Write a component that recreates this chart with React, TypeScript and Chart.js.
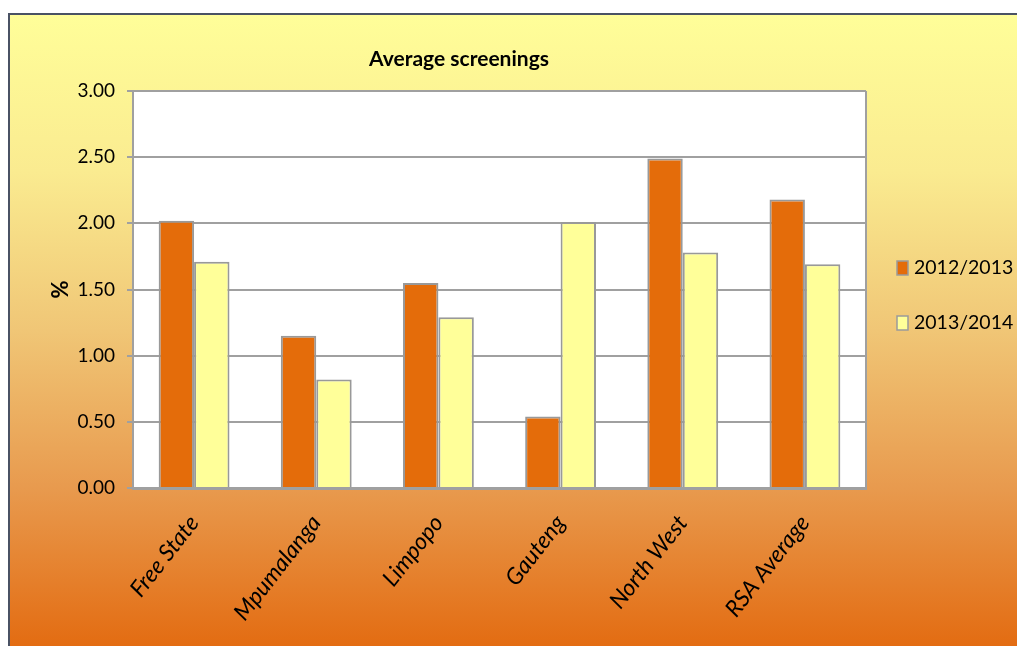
import React, { useEffect, useRef } from "react";
import { Chart, registerables } from "chart.js";

Chart.register(...registerables);

const categories = ["Free State", "Mpumalanga", "Limpopo", "Gauteng", "North West", "RSA Average"];
const series2012 = [2.02, 1.15, 1.55, 0.54, 2.49, 2.18];
const series2013 = [1.71, 0.82, 1.29, 2.01, 1.78, 1.69];
const seriesLabels = ["2012/2013", "2013/2014"];
const titleText = "Average screenings";
const yTitle = "%";

const FONT = "Lato, 'Open Sans', sans-serif";

const decorPlugin = {
  id: "decor",
  beforeDraw(chart: any) {
    const { ctx, width, height, chartArea } = chart;
    ctx.save();
    ctx.fillStyle = "#ffffff";
    ctx.fillRect(0, 0, width, height);
    const g = ctx.createLinearGradient(0, 14, 0, height);
    g.addColorStop(0, "#FFFE99");
    g.addColorStop(0.25, "#FAEB90");
    g.addColorStop(0.5, "#F0C676");
    g.addColorStop(0.75, "#E89A4E");
    g.addColorStop(1, "#E36C12");
    ctx.fillStyle = g;
    ctx.fillRect(9, 14, width - 9, height - 14);
    ctx.strokeStyle = "#4A5264";
    ctx.lineWidth = 2;
    ctx.beginPath();
    ctx.moveTo(9, height);
    ctx.lineTo(9, 14);
    ctx.lineTo(width, 14);
    ctx.stroke();
    ctx.fillStyle = "#ffffff";
    ctx.fillRect(chartArea.left, chartArea.top, chartArea.right - chartArea.left, chartArea.bottom - chartArea.top);
    ctx.fillStyle = "#000";
    ctx.font = `bold 21px ${FONT}`;
    ctx.textAlign = "center";
    ctx.textBaseline = "middle";
    ctx.fillText(titleText, 459, 59);
    ctx.restore();
  },
  beforeDatasetsDraw(chart: any) {
    const { ctx, chartArea } = chart;
    ctx.save();
    ctx.strokeStyle = "#A0A0A0";
    ctx.lineWidth = 2;
    ctx.beginPath();
    ctx.moveTo(chartArea.right, chartArea.top);
    ctx.lineTo(chartArea.right, chartArea.bottom);
    ctx.stroke();
    ctx.restore();
  },
  afterDraw(chart: any) {
    const { ctx, chartArea } = chart;
    ctx.save();
    const x0 = chartArea.right + 31;
    const ys = [268, 323];
    chart.data.datasets.forEach((ds: any, i: number) => {
      const y = ys[i];
      ctx.fillStyle = ds.backgroundColor;
      ctx.fillRect(x0, y - 7, 11, 14);
      ctx.strokeStyle = "#9A9A9A";
      ctx.lineWidth = 1.5;
      ctx.strokeRect(x0, y - 7, 11, 14);
      ctx.fillStyle = "#000";
      ctx.font = `19.5px ${FONT}`;
      ctx.textAlign = "left";
      ctx.textBaseline = "middle";
      ctx.fillText(ds.label, x0 + 17, y);
    });
    ctx.restore();
  },
};

export default function App() {
  const ref = useRef<HTMLCanvasElement>(null);
  useEffect(() => {
    if (!ref.current) return;
    const chart = new Chart(ref.current, {
      type: "bar",
      data: {
        labels: categories,
        datasets: [
          {
            label: seriesLabels[0],
            data: series2012,
            backgroundColor: "#E46C0A",
            borderColor: "#999999",
            borderWidth: 2,
            categoryPercentage: 0.58,
            barPercentage: 1,
          },
          {
            label: seriesLabels[1],
            data: series2013,
            backgroundColor: "#FFFF99",
            borderColor: "#999999",
            borderWidth: 2,
            categoryPercentage: 0.58,
            barPercentage: 1,
          },
        ],
      },
      options: {
        animation: false,
        responsive: false,
        devicePixelRatio: 1,
        layout: { padding: { top: 91, right: 151, left: 0, bottom: 0 } },
        plugins: {
          legend: { display: false },
          title: { display: false },
          tooltip: { enabled: false },
        },
        scales: {
          x: {
            grid: { display: false, drawTicks: false },
            border: { display: true, color: "#A0A0A0", width: 3 },
            ticks: {
              maxRotation: 52,
              minRotation: 52,
              padding: 22,
              color: "#000",
              font: { family: FONT, size: 23, style: "italic" },
            },
            afterFit: (s: any) => {
              s.height = 158;
            },
          },
          y: {
            min: 0,
            max: 3,
            ticks: {
              stepSize: 0.5,
              padding: 12,
              color: "#000",
              font: { family: FONT, size: 19 },
              callback: (v: any) => Number(v).toFixed(2),
            },
            grid: { color: "#A0A0A0", lineWidth: 2, tickLength: 6, drawTicks: true },
            border: { display: true, color: "#A0A0A0", width: 2 },
            title: {
              display: true,
              text: yTitle,
              color: "#000",
              font: { family: FONT, size: 22, weight: "bold" },
              padding: { top: 48, bottom: 0 },
            },
            afterFit: (s: any) => {
              s.width = 133;
            },
          },
        },
      },
      plugins: [decorPlugin],
    });
    return () => chart.destroy();
  }, []);
  return (
    <div style={{ position: "fixed", left: 0, top: 0, width: 1017, height: 646, background: "#fff" }}>
      <canvas ref={ref} width={1017} height={646} style={{ display: "block", width: 1017, height: 646 }} />
    </div>
  );
}
